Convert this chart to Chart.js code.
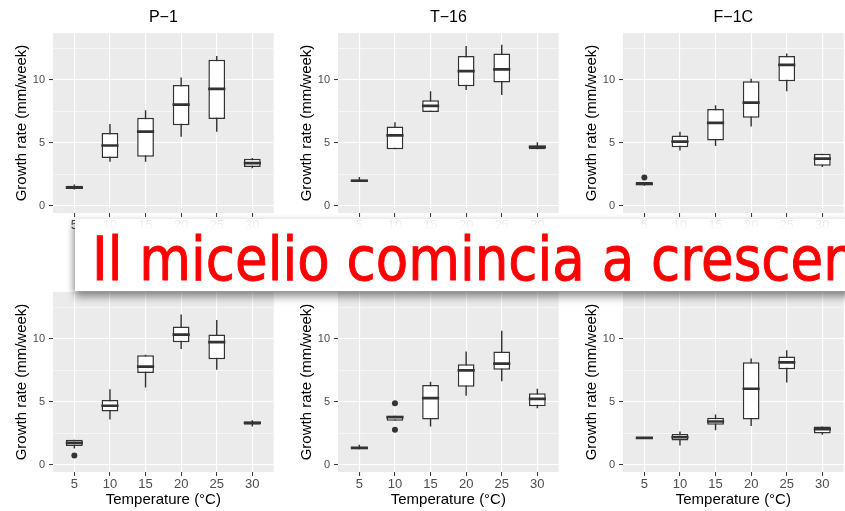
<!DOCTYPE html>
<html>
<head>
<meta charset="utf-8">
<script src="https://cdn.jsdelivr.net/npm/chart.js@4.4.1/dist/chart.umd.min.js"></script>
<style>
  html, body { margin: 0; padding: 0; background: #fff; }
  body { width: 845px; height: 511px; overflow: hidden; position: relative; }
  canvas { position: absolute; }
  #banner {
    position: absolute; left: 75px; top: 219px; width: 820px; height: 72px; z-index: 10;
    background: linear-gradient(to bottom, rgba(255,255,255,0.85) 0px, #fff 12px);
    box-shadow: 0 6px 8px rgba(0,0,0,0.4), -3px 0 6px rgba(0,0,0,0.15);
  }
  #banner span {
    position: absolute; left: 17px; top: 10px; white-space: nowrap;
    font-family: "DejaVu Sans", sans-serif; font-size: 60px; line-height: 60px; color: #ff0000;
    -webkit-text-stroke: 1px #ff0000;
    transform: scaleX(0.885); transform-origin: 0 0;
  }
</style>
</head>
<body>
<div id="banner"><span>Il micelio comincia a crescere</span></div>
<script>
// temperatures (°C)
var temps = [5, 10, 15, 20, 25, 30];
var yTicks = [0, 2.5, 5, 7.5, 10, 12.5];

// one row per temperature: [min, q1, median, q3, max]
var p1 = [[1.3, 1.35, 1.45, 1.6, 1.7], [3.5, 3.8, 4.8, 5.8, 6.5], [3.5, 3.9, 5.9, 7.0, 7.6],
          [5.5, 6.4, 8.05, 9.6, 10.2], [5.9, 6.9, 9.3, 11.6, 11.9], [3.0, 3.1, 3.4, 3.75, 3.8]];
var t16 = [[1.95, 1.95, 2.0, 2.1, 2.3], [4.5, 4.5, 5.6, 6.3, 6.65], [7.45, 7.45, 7.95, 8.4, 9.1],
           [9.2, 9.5, 10.7, 11.9, 12.7], [8.8, 9.8, 10.85, 12.1, 12.8], [4.5, 4.5, 4.7, 4.8, 5.05]];
var f1c = [[1.6, 1.65, 1.75, 1.9, 1.9], [4.4, 4.65, 5.1, 5.6, 5.9], [4.75, 5.2, 6.6, 7.7, 8.0],
           [6.3, 7.0, 8.2, 9.9, 10.1], [9.1, 9.9, 11.2, 11.9, 12.1], [3.1, 3.2, 3.75, 4.15, 4.15]];
var row2a = [[1.3, 1.5, 1.75, 2.0, 2.0], [3.6, 4.25, 4.7, 5.15, 6.0], [6.15, 7.3, 7.8, 8.7, 8.75],
             [9.2, 9.75, 10.35, 11.0, 11.95], [7.55, 8.4, 9.75, 10.35, 11.5], [3.05, 3.2, 3.35, 3.45, 3.55]];
var row2b = [[1.25, 1.25, 1.35, 1.4, 1.6], [3.5, 3.5, 3.8, 3.9, 3.9], [3.05, 3.6, 5.3, 6.35, 6.6],
             [5.5, 6.2, 7.5, 8.0, 9.0], [6.65, 7.55, 8.05, 9.0, 10.65], [4.5, 4.65, 5.25, 5.7, 6.05]];
var row2c = [[2.1, 2.1, 2.15, 2.2, 2.2], [1.55, 1.95, 2.2, 2.45, 2.65], [2.75, 3.2, 3.45, 3.75, 4.0],
             [3.1, 3.6, 6.05, 8.15, 8.45], [6.55, 7.6, 8.15, 8.6, 9.1], [2.4, 2.5, 2.85, 3.05, 3.05]];

// outliers
var f1cOut = [{x: 5, y: 2.25}];
var row2aOut = [{x: 5, y: 0.75}];
var row2bOut = [{x: 10, y: 4.9}, {x: 10, y: 2.8}];

Chart.defaults.font.family = "'Liberation Sans', Arial, sans-serif";

var panelBg = {
    id: 'panelBg',
    beforeDraw: function(c) {
        var a = c.chartArea;
        c.ctx.save();
        c.ctx.fillStyle = '#ebebeb';
        c.ctx.fillRect(a.left, a.top, a.right - a.left, a.bottom - a.top);
        c.ctx.restore();
    }
};

function isMajor(ctx) {
    return ctx.tick && ctx.tick.value % 5 === 0;
}

function MakePanel(title, box, out, left, top) {
    var cv = document.createElement('canvas');
    cv.width = 285;
    cv.height = 252;
    cv.style.left = left + 'px';
    cv.style.top = top + 'px';
    document.body.appendChild(cv);

    new Chart(cv, {
        type: 'bar',
        plugins: [panelBg],
        data: {
            labels: temps,
            datasets: [
                {
                    type: 'line', order: 0, showLine: false,
                    data: box.map(b => b[2]),
                    pointStyle: 'line', pointRadius: 8.6, pointBorderWidth: 2.7,
                    borderColor: '#333', pointBorderColor: '#333'
                },
                {
                    type: 'line', order: 0, showLine: false,
                    data: out,
                    pointRadius: 3, pointBorderWidth: 0,
                    pointBackgroundColor: '#333', borderColor: '#333'
                },
                {
                    order: 1, grouped: false,
                    data: box.map(b => [b[1], b[3]]),
                    backgroundColor: '#fff', borderColor: '#333', borderWidth: 1.5, borderSkipped: false,
                    barPercentage: 0.47, categoryPercentage: 1
                },
                {
                    order: 2, grouped: false,
                    data: box.map(b => [b[0], b[4]]),
                    backgroundColor: '#333', borderWidth: 0,
                    barPercentage: 0.04, categoryPercentage: 1
                }
            ]
        },
        options: {
            responsive: false,
            animation: false,
            devicePixelRatio: 1,
            events: [],
            layout: { padding: { top: title ? 0 : 33, left: 0, right: 0, bottom: 0 } },
            plugins: {
                legend: { display: false },
                tooltip: { enabled: false },
                title: {
                    display: !!title, text: title, fullSize: false, color: '#000',
                    font: { size: 16, weight: 'normal' }, padding: { top: 8, bottom: 5.8 }
                }
            },
            scales: {
                x: {
                    type: 'linear', min: 2, max: 33, offset: false,
                    afterBuildTicks: s => { s.ticks = temps.map(v => ({value: v})); },
                    afterFit: s => { s.height = 39; },
                    grid: { color: '#fff', lineWidth: 1.1, tickLength: 4, tickColor: '#333', tickWidth: 1, offset: false },
                    border: { display: false },
                    ticks: { color: '#4d4d4d', font: { size: 13 }, padding: 1, maxRotation: 0, autoSkip: false },
                    title: { display: true, text: 'Temperature (°C)', color: '#000', font: { size: 15 }, padding: { top: 0, bottom: 2 } }
                },
                y: {
                    min: -0.56, max: 13.73,
                    afterBuildTicks: s => { s.ticks = yTicks.map(v => ({value: v})); },
                    afterFit: s => { s.width = 53; },
                    grid: {
                        color: '#fff',
                        lineWidth: ctx => isMajor(ctx) ? 1.1 : 0.55,
                        tickLength: 4,
                        tickColor: ctx => isMajor(ctx) ? '#333' : 'rgba(0,0,0,0)',
                        tickWidth: 1
                    },
                    border: { display: false },
                    ticks: { color: '#4d4d4d', font: { size: 11 }, padding: 4, callback: v => v % 5 === 0 ? v : '' },
                    title: { display: true, text: 'Growth rate (mm/week)', color: '#000', font: { size: 15 }, padding: { top: 12.5, bottom: 0 } }
                }
            }
        }
    });
}

MakePanel('P\u22121', p1, [], 0, 0);
MakePanel('T\u221216', t16, [], 285, 0);
MakePanel('F\u22121C', f1c, f1cOut, 570, 0);
MakePanel('', row2a, row2aOut, 0, 259);
MakePanel('', row2b, row2bOut, 285, 259);
MakePanel('', row2c, [], 570, 259);
</script>
</body>
</html>
